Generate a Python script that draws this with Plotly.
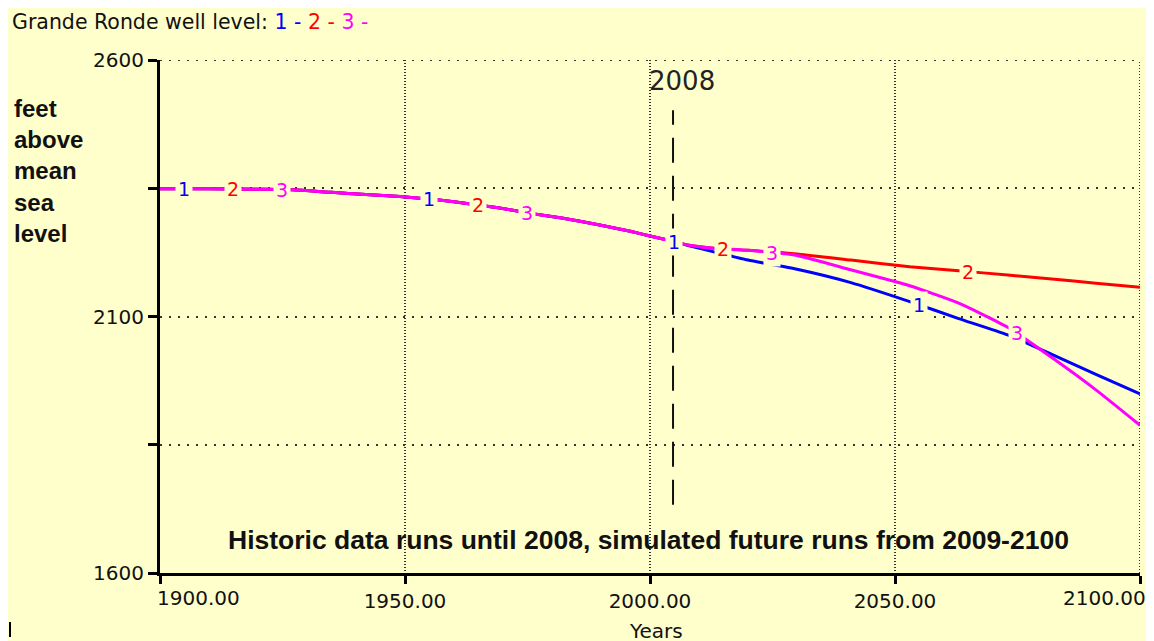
import numpy as np
import plotly.graph_objects as go

# ---------------- data ----------------
hist_years = [1900, 1910, 1920, 1927, 1935, 1942, 1949, 1957, 1963, 1969, 1975,
              1982, 1990, 1996, 2000, 2004]
hist_level = [2349, 2349, 2348, 2347, 2342, 2338, 2334, 2327, 2320, 2312, 2302,
              2292, 2278, 2266, 2257, 2248]

future_years = [2008, 2013, 2020, 2030, 2041, 2053, 2063, 2073, 2082, 2091, 2100]
run1_future = [2238, 2226, 2210, 2192, 2166, 2129, 2096, 2064, 2026, 1987, 1949]
run2_future = [2239, 2233, 2229, 2222, 2210, 2197, 2189, 2181, 2173, 2165, 2157]
run3_future = [2239, 2233, 2229, 2219, 2191, 2160, 2126, 2079, 2020, 1957, 1888]

run_names = ["1", "2", "3"]
run_colors = ["#0000FF", "#FF0000", "#FF00FF"]

x_ticks = [1900, 1950, 2000, 2050, 2100]
x_ticktext = ["", "1950.00", "2000.00", "2050.00", ""]
x_end_labels = ["1900.00", "2100.00"]
y_ticks = [1600, 1850, 2100, 2350, 2600]
y_ticktext = ["1600", "", "2100", "", "2600"]

marker_year = 2004.7
marker_label = "2008"

title_text = "Grande Ronde well level: "
y_title = "feet<br>above<br>mean<br>sea<br>level"
note_text = "Historic data runs until 2008, simulated future runs from 2009-2100"
x_title = "Years"

BG = "#FFFFCC"
TICK_FONT = dict(family="DejaVu Sans", size=20, color="#111")

# ---------------- figure ----------------
years = np.array(hist_years + future_years, dtype=float)
runs = [np.array(hist_level + r, dtype=float) for r in (run1_future, run2_future, run3_future)]

fig = go.Figure()
for name, col, vals in zip(run_names, run_colors, runs):
    fig.add_trace(go.Scatter(x=years, y=vals, mode="lines", name=name,
                             line=dict(color=col, width=3, shape="spline", smoothing=0.5),
                             showlegend=False, hoverinfo="skip"))

annotations = []
# series number labels along the lines
for k, (name, col, vals) in enumerate(zip(run_names, run_colors, runs)):
    for j in range(4):
        lx = 1904.8 + 10 * k + 50 * j
        ly = float(np.interp(lx, years, vals))
        annotations.append(dict(x=lx, y=ly, xref="x", yref="y", text=name,
                                showarrow=False, xanchor="center", yanchor="middle",
                                font=dict(family="DejaVu Sans", size=19, color=col),
                                bgcolor=BG, borderpad=2))

# end tick labels of the x axis, kept inside the axis span
annotations.append(dict(x=(155 - 160) / 980, y=(573 - 598) / 513, xref="paper", yref="paper",
                        text=x_end_labels[0], showarrow=False, xanchor="left",
                        yanchor="middle", font=TICK_FONT))
annotations.append(dict(x=(1148 - 160) / 980, y=(573 - 598) / 513, xref="paper", yref="paper",
                        text=x_end_labels[1], showarrow=False, xanchor="right",
                        yanchor="middle", font=TICK_FONT))

# marker label
annotations.append(dict(x=2006.5, y=2559, xref="x", yref="y", text=marker_label,
                        showarrow=False, xanchor="center", yanchor="middle",
                        font=dict(family="DejaVu Sans", size=26, color="#222")))

# title with colored legend
legend_html = title_text + "".join(
    f'<span style="color:{c}">{n} -</span> ' for n, c in zip(run_names, run_colors))
annotations.append(dict(x=(10 - 160) / 980, y=(573 - 22) / 513, xref="paper", yref="paper",
                        text=legend_html, showarrow=False, xanchor="left", yanchor="middle",
                        font=dict(family="DejaVu Sans", size=20.5, color="#111")))

# y axis title
annotations.append(dict(x=(12 - 160) / 980, y=(573 - 171) / 513, xref="paper", yref="paper",
                        text="<b>" + y_title + "</b>", showarrow=False, xanchor="left",
                        yanchor="middle", align="left",
                        font=dict(family="Liberation Sans", size=24, color="#111")))

# note
annotations.append(dict(x=(648 - 160) / 980, y=(573 - 540) / 513, xref="paper", yref="paper",
                        text="<b>" + note_text + "</b>", showarrow=False, xanchor="center",
                        yanchor="middle",
                        font=dict(family="Liberation Sans", size=26.5, color="#111")))

# x axis title
annotations.append(dict(x=(656 - 160) / 980, y=(573 - 631) / 513, xref="paper", yref="paper",
                        text=x_title, showarrow=False, xanchor="center", yanchor="middle",
                        font=dict(family="DejaVu Sans", size=20, color="#111")))

shapes = [
    # dashed marker line
    dict(type="line", xref="x", yref="y", x0=marker_year, x1=marker_year, y0=1733, y1=2502,
         line=dict(color="#111", width=2, dash="25px,13px")),
    # grid lines on the top and right edges
    dict(type="line", xref="x", yref="y", x0=1900, x1=2100, y0=2600, y1=2600,
         line=dict(color="#333", width=2, dash="2px,7px"), layer="below"),
    dict(type="line", xref="x", yref="y", x0=2100, x1=2100, y0=1600, y1=2600,
         line=dict(color="#333", width=2, dash="1px,2px"), layer="below"),
    # small cursor mark bottom-left
    dict(type="line", xref="paper", yref="paper", x0=(10 - 160) / 980, x1=(10 - 160) / 980,
         y0=(573 - 622) / 513, y1=(573 - 637) / 513, line=dict(color="black", width=2)),
]

fig.update_layout(
    width=1154, height=641,
    margin=dict(l=152, r=22, t=52, b=76),
    paper_bgcolor=BG, plot_bgcolor=BG,
    annotations=annotations, shapes=shapes,
    xaxis=dict(range=[1900, 2100], tickvals=x_ticks, ticktext=x_ticktext,
               showline=True, linecolor="black", linewidth=3,
               ticks="outside", ticklen=8, tickwidth=3, tickcolor="black",
               tickfont=TICK_FONT,
               showgrid=True, gridcolor="#333", gridwidth=2, griddash="1px,2px",
               zeroline=False),
    yaxis=dict(range=[1600, 2600], tickvals=y_ticks, ticktext=y_ticktext,
               showline=True, linecolor="black", linewidth=3,
               ticks="outside", ticklen=9, tickwidth=3, tickcolor="black",
               tickfont=TICK_FONT,
               showgrid=True, gridcolor="#333", gridwidth=2, griddash="2px,7px",
               zeroline=False),
)

fig.write_html("out.html")
